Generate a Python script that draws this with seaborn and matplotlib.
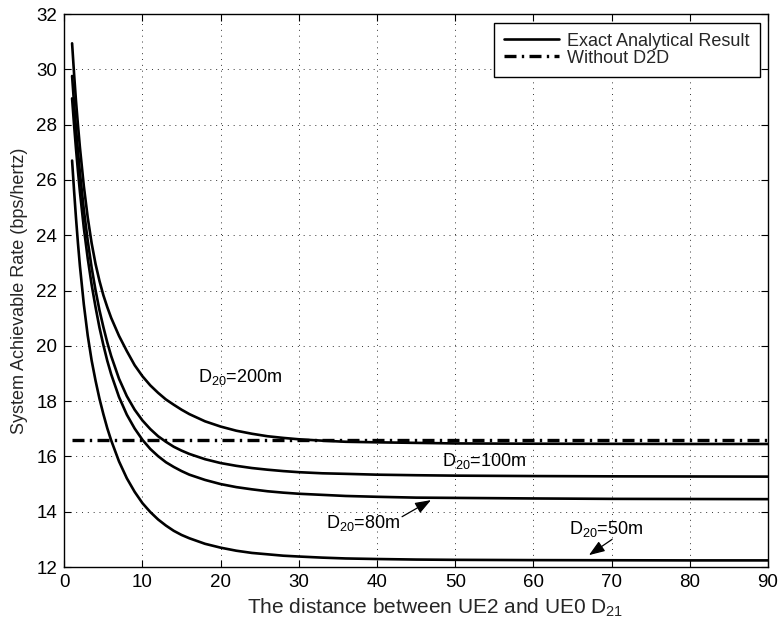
import numpy as np
import pandas as pd
import matplotlib
matplotlib.use("Agg")
import matplotlib.pyplot as plt
from matplotlib.lines import Line2D
import seaborn as sns

# Distance between UE2 and UE0, D21 (m)
d21 = [1, 1.25, 1.5, 1.75, 2, 2.5, 3, 3.5, 4, 4.5, 5, 5.5, 6, 7, 8, 9, 10, 11,
       12, 13, 14, 15, 16, 18, 20, 22, 24, 26, 28, 30, 33, 36, 40, 45, 50, 60,
       70, 80, 90]

# System achievable rate (bps/hertz) for each UE2-UE0 distance D20
rate_d20_50 = [26.70, 25.62, 24.62, 23.71, 22.89, 21.50, 20.37, 19.47, 18.74,
               18.09, 17.53, 17.02, 16.58, 15.82, 15.21, 14.72, 14.31, 13.99,
               13.72, 13.50, 13.31, 13.16, 13.04, 12.84, 12.70, 12.59, 12.51,
               12.46, 12.41, 12.38, 12.34, 12.31, 12.29, 12.27, 12.26, 12.25,
               12.245, 12.24, 12.24]
rate_d20_80 = [28.95, 28.00, 27.12, 26.32, 25.57, 24.27, 23.16, 22.21, 21.40,
               20.66, 20.03, 19.46, 18.97, 18.15, 17.51, 17.01, 16.60, 16.27,
               16.01, 15.79, 15.62, 15.47, 15.34, 15.15, 15.00, 14.89, 14.81,
               14.74, 14.69, 14.65, 14.61, 14.57, 14.54, 14.51, 14.50, 14.48,
               14.465, 14.46, 14.455]
rate_d20_100 = [29.76, 28.77, 27.86, 27.04, 26.27, 24.93, 23.80, 22.83, 22.01,
                21.29, 20.68, 20.12, 19.63, 18.81, 18.18, 17.69, 17.30, 16.99,
                16.73, 16.53, 16.35, 16.21, 16.09, 15.90, 15.76, 15.66, 15.58,
                15.52, 15.47, 15.43, 15.39, 15.37, 15.34, 15.32, 15.305, 15.29,
                15.28, 15.275, 15.27]
rate_d20_200 = [30.94, 29.85, 28.85, 27.99, 27.18, 25.78, 24.64, 23.71, 22.96,
                22.35, 21.83, 21.40, 21.01, 20.36, 19.81, 19.30, 18.90, 18.57,
                18.30, 18.06, 17.87, 17.69, 17.53, 17.27, 17.08, 16.93, 16.82,
                16.73, 16.67, 16.62, 16.57, 16.53, 16.51, 16.49, 16.47, 16.46,
                16.455, 16.45, 16.45]

# Rate without D2D (constant reference level)
no_d2d_x = [1, 90]
no_d2d_rate = [16.6, 16.6]

d20_labels = ["50m", "80m", "100m", "200m"]
curves = [rate_d20_50, rate_d20_80, rate_d20_100, rate_d20_200]

df = pd.concat(
    [pd.DataFrame({"D21": d21, "rate": r, "D20": lab})
     for lab, r in zip(d20_labels, curves)],
    ignore_index=True,
)
df_ref = pd.DataFrame({"D21": no_d2d_x, "rate": no_d2d_rate})

sns.set_theme(style="ticks")
plt.rcParams["font.family"] = ["Liberation Sans", "DejaVu Sans"]
plt.rcParams["mathtext.fontset"] = "custom"
plt.rcParams["mathtext.rm"] = "Liberation Sans"
plt.rcParams["mathtext.it"] = "Liberation Sans:italic"
plt.rcParams["axes.linewidth"] = 1.0

fig = plt.figure(figsize=(7.8, 6.26), dpi=100)
ax = fig.add_axes([0.0824, 0.0942, 0.9022, 0.8834])

dashdot = (0, (3.6, 1.6, 0.7, 1.6))
sns.lineplot(data=df, x="D21", y="rate", hue="D20",
             palette=["black"] * 4, linewidth=1.9, legend=False, ax=ax)
sns.lineplot(data=df_ref, x="D21", y="rate", color="black", linewidth=2.4,
             linestyle=dashdot, legend=False, ax=ax)

ax.set_xlim(0, 90)
ax.set_ylim(12, 32)
ax.set_xticks(np.arange(0, 91, 10))
ax.set_yticks(np.arange(12, 33, 2))
ax.grid(True, linestyle=(0, (1, 5)), color="#333333", linewidth=0.7)
ax.tick_params(direction="in", length=5, width=0.8, top=True, right=True,
               labelsize=13.5, pad=5, colors="black")
for s in ax.spines.values():
    s.set_visible(True)
    s.set_color("black")

ax.set_xlabel("The distance between UE2 and UE0 D$_{21}$", fontsize=15)
ax.xaxis.set_label_coords(0.527, -0.054, transform=ax.transAxes)
ax.xaxis.label.set_verticalalignment("top")
ax.set_ylabel("System Achievable Rate (bps/hertz)", fontsize=13, labelpad=6)

# Curve labels
lab_kw = dict(fontsize=13, va="baseline", ha="left", color="black")
ax.text(17.05, 18.68, "D$_{20}$=200m", **lab_kw)
ax.text(48.3, 15.66, "D$_{20}$=100m", **lab_kw)
ax.text(33.5, 13.40, "D$_{20}$=80m", **lab_kw)
ax.text(64.5, 13.19, "D$_{20}$=50m", **lab_kw)

arrow_kw = dict(arrowstyle="-|>,head_length=0.6,head_width=0.22", color="black",
                lw=0.9, mutation_scale=16, shrinkA=0, shrinkB=0)
ax.annotate("", xy=(46.9, 14.42), xytext=(43.2, 13.82), arrowprops=arrow_kw)
ax.annotate("", xy=(67.1, 12.43), xytext=(70.06, 13.0), arrowprops=arrow_kw)

handles = [
    Line2D([], [], color="black", linewidth=1.9),
    Line2D([], [], color="black", linewidth=2.4, linestyle=dashdot),
]
leg = ax.legend(handles, ["Exact Analytical Result", "Without D2D"],
                loc="upper right", bbox_to_anchor=(0.988, 0.984),
                borderaxespad=0, fontsize=13, frameon=True, fancybox=False,
                framealpha=1, edgecolor="black", handlelength=3.05,
                handletextpad=0.45, labelspacing=0.0, borderpad=0.55)
leg.get_frame().set_linewidth(1.0)

fig.savefig("out.png", dpi=100)
